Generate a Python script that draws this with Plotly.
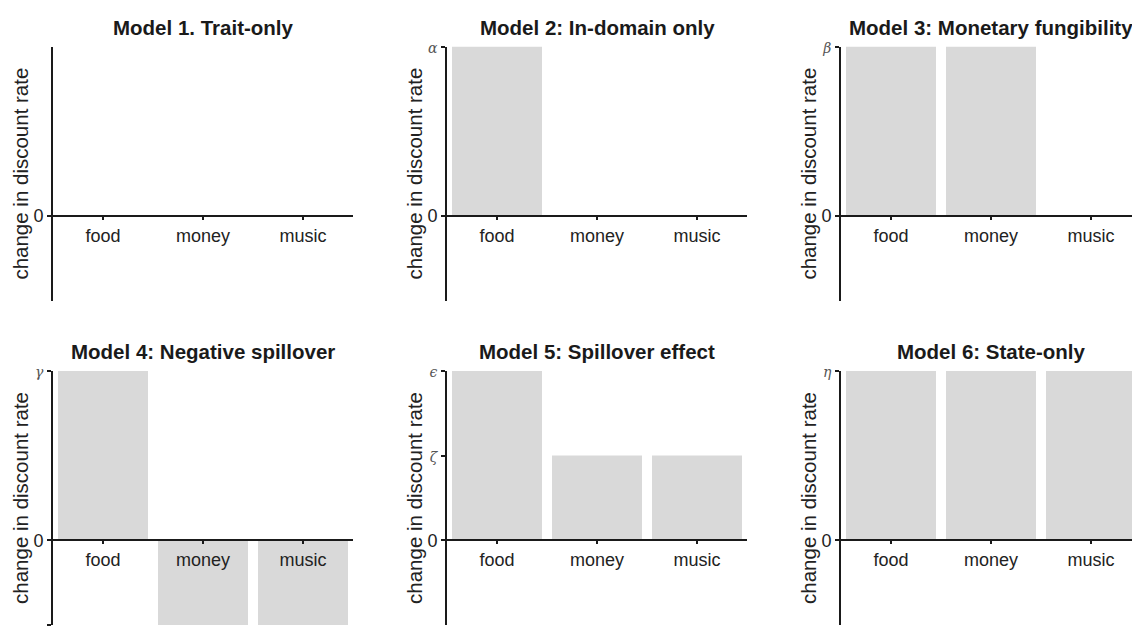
import plotly.graph_objects as go

W, H = 1132, 627

categories = ["food", "money", "music"]
titles = [
    "Model 1. Trait-only",
    "Model 2: In-domain only",
    "Model 3: Monetary fungibility",
    "Model 4: Negative spillover",
    "Model 5: Spillover effect",
    "Model 6: State-only",
]
values_m1 = [0, 0, 0]
values_m2 = [1, 0, 0]
values_m3 = [1, 1, 0]
values_m4 = [1, -0.5, -0.5]
values_m5 = [1, 0.5, 0.5]
values_m6 = [1, 1, 1]
series = [values_m1, values_m2, values_m3, values_m4, values_m5, values_m6]

tickvals_list = [
    [0],
    [0, 1],
    [0, 1],
    [-0.5, 0, 1],
    [0, 0.5, 1],
    [0, 1],
]
ticklabels_list = [
    ["0"],
    ["0", "α"],
    ["0", "β"],
    ["δ", "0", "γ"],
    ["0", "ζ", "ϵ"],
    ["0", "η"],
]
y_label = "change in discount rate"

Y_RANGE = [-0.5, 1.0]
BAR_COLOR = "#d9d9d9"
AX_COLOR = "#1a1a1a"
SANS = "Liberation Sans, Arial, Helvetica, sans-serif"

# pixel layout of each panel (left, right, top, bottom)
col_px = [(53, 353), (447, 747), (841, 1141)]
row_px = [(40, 297), (368, 625)]


def greek(t):
    if t == "0":
        return t
    return ("<span style=\"font-family:'DejaVu Serif', serif;font-size:14px;"
            "fill:#555\"><i>" + t + "</i></span>")


fig = go.Figure()
annotations = []
for i in range(6):
    r, c = divmod(i, 3)
    left, right = col_px[c]
    top, bot = row_px[r]
    full_w = right - left
    vis_right = min(right, W)
    xr = [-0.5, -0.5 + 3.0 * (vis_right - left) / full_w]
    xdom = [left / W, vis_right / W]
    ydom = [1 - bot / H, 1 - top / H]
    zero_pos = ydom[0] + (0 - Y_RANGE[0]) / (Y_RANGE[1] - Y_RANGE[0]) * (ydom[1] - ydom[0])

    sx = "" if i == 0 else str(i + 1)
    fig.add_trace(go.Bar(
        x=categories, y=series[i], width=0.9,
        marker=dict(color=BAR_COLOR, line=dict(width=0)),
        xaxis="x" + sx, yaxis="y" + sx, showlegend=False, hoverinfo="skip",
    ))
    fig.layout["xaxis" + sx] = dict(
        domain=xdom, range=xr, anchor="free", position=zero_pos,
        type="category", categoryorder="array", categoryarray=categories,
        showline=True, linecolor=AX_COLOR, linewidth=2,
        ticks="outside", ticklen=3, tickwidth=1.5, tickcolor=AX_COLOR,
        tickfont=dict(family=SANS, size=18, color="#222"),
        showgrid=False, zeroline=False, fixedrange=True, layer="above traces",
    )
    fig.layout["yaxis" + sx] = dict(
        domain=ydom, range=Y_RANGE, anchor="x" + sx,
        showline=True, linecolor=AX_COLOR, linewidth=2,
        ticks="outside", ticklen=4, tickwidth=1.5, tickcolor=AX_COLOR,
        tickvals=tickvals_list[i], ticktext=[greek(t) for t in ticklabels_list[i]],
        tickfont=dict(family=SANS, size=18, color="#222"),
        showgrid=False, zeroline=False, fixedrange=True, layer="above traces",
    )
    annotations.append(dict(
        text="<b>" + titles[i] + "</b>", xref="paper", yref="paper",
        x=(left + right) / 2 / W, y=ydom[1], xanchor="center", yanchor="middle",
        yshift=19, showarrow=False, font=dict(family=SANS, size=20.5, color="#1a1a1a"),
    ))
    annotations.append(dict(
        text=y_label, xref="paper", yref="paper", textangle=-90,
        x=left / W, y=(ydom[0] + ydom[1]) / 2, xanchor="center", yanchor="middle",
        xshift=-32, showarrow=False, font=dict(family=SANS, size=20.5, color="#222"),
    ))

fig.update_layout(
    width=W, height=H, margin=dict(l=0, r=0, t=0, b=0),
    paper_bgcolor="white", plot_bgcolor="white",
    annotations=annotations, showlegend=False, bargap=0.1,
)

fig.write_html(
    "out.html",
    config={"displayModeBar": False},
    post_script="document.body.style.margin='0';document.body.style.overflow='hidden';",
)
